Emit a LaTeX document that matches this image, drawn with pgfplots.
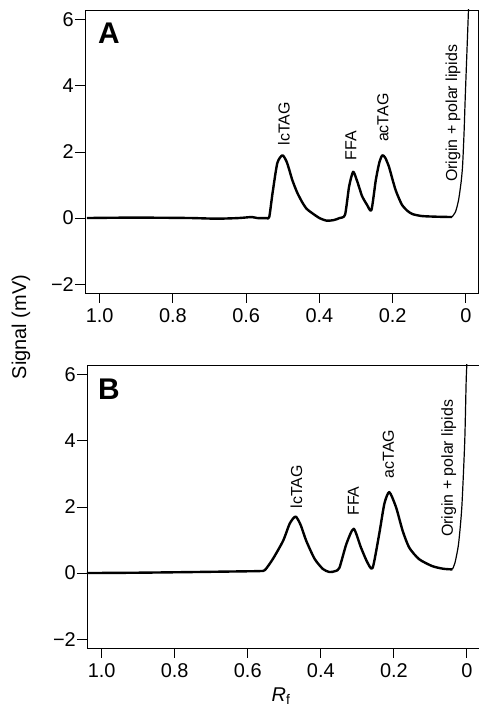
\documentclass[border=0pt]{standalone}
\usepackage{fontspec}
\setmainfont{Liberation Sans}
\usepackage{pgfplots}
\pgfplotsset{compat=1.18}

\pgfplotsset{
  tlc/.style={
    scale only axis, width=393bp, height=283bp,
    x dir=reverse,
    xmin=-0.033, xmax=1.04, ymin=-2.27, ymax=6.3,
    xtick={0,0.2,0.4,0.6,0.8,1.0},
    xticklabels={0,0.2,0.4,0.6,0.8,1.0},
    ytick={-2,0,2,4,6},
    yticklabels={−2,0,2,4,6},
    tick pos=left, tick align=outside,
    major tick length=10bp,
    axis line style={line width=0.9bp},
    every tick/.style={line width=0.9bp, black},
    ticklabel style={font=\fontsize{20}{24}\selectfont},
    yticklabel style={inner sep=1bp},
    xticklabel style={inner sep=1bp, yshift=-4bp},
  },
}
\tikzset{
  trace/.style={black, line width=2.4bp, smooth, tension=0.4, line join=round},
  rise/.style={black, line width=1.2bp, smooth, tension=0.4},
  peak/.style={rotate=90, anchor=west, inner sep=0pt, font=\fontsize{16}{19}\selectfont},
  panel/.style={font=\fontsize{30}{36}\selectfont\bfseries},
}

\begin{document}
\begin{tikzpicture}
\useasboundingbox (0,0) rectangle (479bp,711bp);

% panel A
\begin{axis}[tlc, at={(85bp,418bp)}, anchor=south west]
\addplot[trace] coordinates {
 (1.035,0.0)(0.95,0.01)(0.85,0.01)(0.75,0.0)(0.68,-0.02)(0.62,0.0)(0.585,0.03)(0.57,0.0)
 (0.545,0.0)(0.537,0.03)(0.528,0.75)(0.515,1.66)(0.501,1.9)(0.49,1.72)(0.482,1.45)
 (0.474,1.15)(0.461,0.78)(0.447,0.48)(0.435,0.28)(0.42,0.15)(0.4,0.0)(0.38,-0.08)
 (0.36,-0.06)(0.345,0.0)(0.33,0.1)(0.319,0.95)(0.308,1.4)(0.298,1.15)(0.29,0.88)
 (0.283,0.65)(0.27,0.4)(0.258,0.24)(0.246,1.15)(0.236,1.7)(0.228,1.9)(0.22,1.82)
 (0.21,1.55)(0.2,1.15)(0.192,0.85)(0.183,0.6)(0.174,0.39)(0.16,0.22)(0.146,0.12)
 (0.12,0.06)(0.08,0.04)(0.038,0.03)
};
\addplot[rise] coordinates {
 (0.038,0.03)(0.028,0.2)(0.02,0.55)(0.013,1.1)(0.009,1.6)(0.005,2.6)(0.002,3.6)
 (-0.002,4.8)(-0.005,5.7)(-0.008,6.6)
};
\node[panel] at (axis cs:0.975,5.6) {A};
\node[peak] at (axis cs:0.497,2.2) {lcTAG};
\node[peak] at (axis cs:0.314,1.75) {FFA};
\node[peak] at (axis cs:0.227,2.3) {acTAG};
\node[peak] at (axis cs:0.035,1.09) {Origin + polar lipids};
\end{axis}

% panel B
\begin{axis}[tlc, at={(87bp,63bp)}, anchor=south west, width=392bp]
\addplot[trace] coordinates {
 (1.04,0.0)(0.9,0.01)(0.75,0.03)(0.62,0.05)(0.567,0.06)(0.553,0.09)(0.531,0.43)
 (0.503,0.98)(0.485,1.5)(0.469,1.71)(0.455,1.45)(0.44,0.98)(0.417,0.43)(0.394,0.12)
 (0.376,0.03)(0.36,0.06)(0.349,0.16)(0.33,0.88)(0.31,1.34)(0.29,0.77)(0.272,0.31)
 (0.258,0.16)(0.24,1.19)(0.226,2.1)(0.2125,2.45)(0.194,1.99)(0.176,1.28)(0.158,0.77)
 (0.131,0.42)(0.095,0.21)(0.065,0.13)(0.04,0.11)
};
\addplot[rise] coordinates {
 (0.04,0.11)(0.033,0.3)(0.023,0.88)(0.014,2.0)(0.006,4.0)(0.002,5.86)(-0.001,6.6)
};
\node[panel] at (axis cs:0.98,5.58) {B};
\node[peak] at (axis cs:0.467,1.95) {lcTAG};
\node[peak] at (axis cs:0.311,1.73) {FFA};
\node[peak] at (axis cs:0.215,2.86) {acTAG};
\node[peak] at (axis cs:0.05,1.09) {Origin + polar lipids};
\end{axis}

\node[rotate=90, font=\fontsize{20}{24}\selectfont] at (21bp,384bp) {Signal (mV)};
\node[font=\fontsize{20}{24}\selectfont] at (281bp,15bp) {\textit{R}\textsubscript{f}};
\end{tikzpicture}
\end{document}
